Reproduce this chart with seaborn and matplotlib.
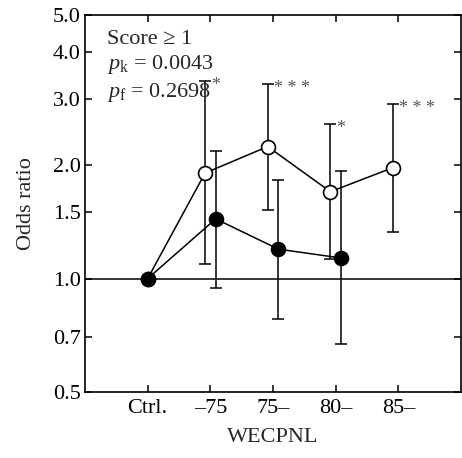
import matplotlib
matplotlib.use("Agg")
import matplotlib.pyplot as plt
import seaborn as sns
import numpy as np
import pandas as pd
from matplotlib.ticker import FixedLocator, NullLocator, FixedFormatter

sns.set_theme(style="ticks")
plt.rcParams['font.family'] = ['Liberation Serif', 'DejaVu Serif']
plt.rcParams['mathtext.fontset'] = 'custom'
plt.rcParams['mathtext.rm'] = 'Liberation Serif'
plt.rcParams['mathtext.it'] = 'Liberation Serif:italic'

categories = ["Ctrl.", "–75", "75–", "80–", "85–"]

# open circles (series A)
open_or = [1.0, 1.905, 2.24, 1.70, 1.97]
open_lo = [1.0, 1.09, 1.52, 1.13, 1.33]
open_hi = [1.0, 3.34, 3.29, 2.57, 2.90]
open_sig = ["", "*", "* * *", "*", "* * *"]

# filled circles (series B)
fill_cats = ["Ctrl.", "–75", "75–", "80–"]
fill_or = [1.0, 1.44, 1.197, 1.134]
fill_lo = [1.0, 0.945, 0.781, 0.67]
fill_hi = [1.0, 2.18, 1.83, 1.93]

yticks = [0.5, 0.7, 1.0, 1.5, 2.0, 3.0, 4.0, 5.0]
ytick_labels = ["0.5", "0.7", "1.0", "1.5", "2.0", "3.0", "4.0", "5.0"]

FS = 16

fig = plt.figure(figsize=(4.62, 4.58), dpi=100)
ax = fig.add_axes([0.184, 0.144, 0.814, 0.823])

off = 0.085
xo = [0.0] + [i - off for i in range(1, len(open_or))]
xf = [0.0] + [i + off for i in range(1, len(fill_or))]

df_o = pd.DataFrame({"x": xo, "y": open_or})
df_f = pd.DataFrame({"x": xf, "y": fill_or})

ax.axhline(1.0, color="black", lw=1.1, zorder=1)

# error bars
yo = np.array(open_or); yf = np.array(fill_or)
ax.errorbar(xo[1:], yo[1:], yerr=[yo[1:] - np.array(open_lo[1:]), np.array(open_hi[1:]) - yo[1:]],
            fmt="none", ecolor="black", elinewidth=1.1, capsize=4.5, capthick=1.1, zorder=2)
ax.errorbar(xf[1:], yf[1:], yerr=[yf[1:] - np.array(fill_lo[1:]), np.array(fill_hi[1:]) - yf[1:]],
            fmt="none", ecolor="black", elinewidth=1.1, capsize=4.5, capthick=1.1, zorder=2)

sns.lineplot(data=df_o, x="x", y="y", ax=ax, color="black", lw=1.1, marker="o",
             markersize=10, markerfacecolor="white", markeredgecolor="black",
             markeredgewidth=1.2, sort=False, zorder=3)
sns.lineplot(data=df_f, x="x", y="y", ax=ax, color="black", lw=1.1, marker="o",
             markersize=10, markerfacecolor="black", markeredgecolor="black",
             markeredgewidth=1.2, sort=False, zorder=4)

for x, hi, s in zip(xo, open_hi, open_sig):
    if s:
        ax.annotate(s, xy=(x, hi), xytext=(4.3, -6.5), textcoords="offset points",
                    ha="left", va="baseline", fontsize=13, color="#555555")

ax.set_yscale("log")
ax.set_ylim(0.5, 5.0)
ax.set_xlim(-1, 5)
ax.yaxis.set_major_locator(FixedLocator(yticks))
ax.yaxis.set_major_formatter(FixedFormatter(ytick_labels))
ax.yaxis.set_minor_locator(NullLocator())
ax.set_xticks(range(len(categories)))
ax.set_xticklabels(categories)
ax.tick_params(axis="both", which="major", direction="in", length=5, width=1.1,
               labelsize=FS, top=True, right=True, colors="black")
ax.tick_params(axis="y", pad=3)
ax.tick_params(axis="x", pad=5)
for sp in ax.spines.values():
    sp.set_linewidth(1.2)
    sp.set_color("black")

ax.set_xlabel("WECPNL", fontsize=FS, labelpad=7)
ax.set_ylabel("Odds ratio", fontsize=FS, labelpad=12)

ax.text(0.0585, 0.923, "Score ≥ 1", transform=ax.transAxes, fontsize=FS, va="baseline", ha="left")
ax.text(0.0585, 0.857, r"$p_{\mathrm{k}}$ = 0.0043", transform=ax.transAxes, fontsize=FS, va="baseline", ha="left")
ax.text(0.0585, 0.782, r"$p_{\mathrm{f}}$ = 0.2698", transform=ax.transAxes, fontsize=FS, va="baseline", ha="left")

fig.savefig("out.png", dpi=100)
